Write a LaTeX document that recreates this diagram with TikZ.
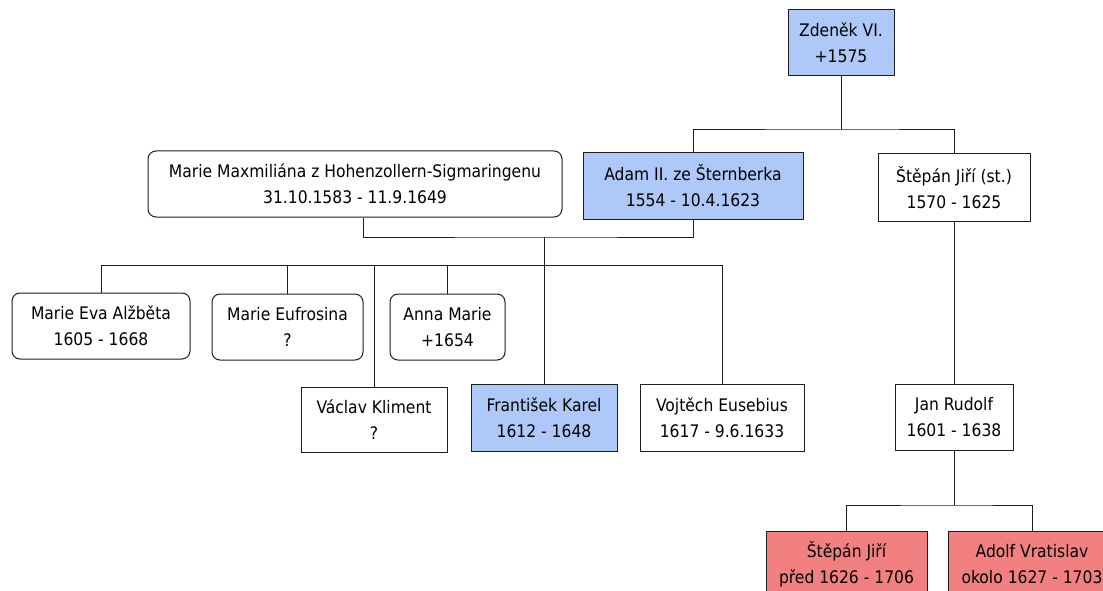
\documentclass[tikz,border=0pt]{standalone}
\usepackage{fontspec}
\setmainfont{DejaVu Sans Condensed}
\definecolor{famblue}{RGB}{174,201,247}
\definecolor{famred}{RGB}{242,128,128}
\definecolor{famline}{RGB}{30,30,30}
\tikzset{
    person/.style={draw=famline, line width=1pt, fill=white, inner sep=0pt, align=center,
        font=\fontsize{17.3}{26}\selectfont, minimum height=66},
    roundperson/.style={person, rounded corners=8pt},
    link/.style={draw=famline, line width=1pt}
}
\begin{document}
\begin{tikzpicture}[x=1pt,y=-1pt]

% page frame, same as reference image
\useasboundingbox (0,0) rectangle (1103,591);
\clip (0,0) rectangle (1103,591);
\fill[white] (0,0) rectangle (1103,591);

% generation 1
\node[person, fill=famblue, minimum width=106] (zden) at (841,43) {Zdeněk VI.\\+1575};

% generation 2
\node[roundperson, minimum width=414] (mmax) at (355,184) {Marie Maxmiliána z Hohenzollern-Sigmaringenu\\31.10.1583 - 11.9.1649};
\node[person, fill=famblue, minimum width=220] (adam) at (693,186) {Adam II. ze Šternberka\\1554 - 10.4.1623};
\node[person, minimum width=152, minimum height=67] (stepst) at (954,187.5) {Štěpán Jiří (st.)\\1570 - 1625};

% generation 3, upper row
\node[roundperson, minimum width=178] (eva) at (101,326) {Marie Eva Alžběta\\1605 - 1668};
\node[roundperson, minimum width=151] (eufr) at (287.5,327) {Marie Eufrosina\\?};
\node[roundperson, minimum width=115] (anna) at (447.5,327) {Anna Marie\\+1654};

% generation 3, lower row
\node[person, minimum width=146, minimum height=65] (vacl) at (374,419.5) {Václav Kliment\\?};
\node[person, fill=famblue, minimum width=146, minimum height=67] (fran) at (544,417.5) {František Karel\\1612 - 1648};
\node[person, minimum width=164, minimum height=67] (vojt) at (722,417.5) {Vojtěch Eusebius\\1617 - 9.6.1633};
\node[person, minimum width=118] (jan) at (954,417) {Jan Rudolf\\1601 - 1638};

% generation 4
\node[person, fill=famred, minimum width=161] (stepml) at (846.5,564) {Štěpán Jiří\\před 1626 - 1706};
\node[person, fill=famred, minimum width=168] (adolf) at (1032,564) {Adolf Vratislav\\okolo 1627 - 1703};

% bus points
\coordinate (zbus) at (841,130);
\coordinate (couple) at (544,237);
\coordinate (kids) at (544,265);
\coordinate (janbus) at (954,505);

% connectors
\draw[link] (zden.south) -- (zbus);
\draw[link] (adam.north) |- (zbus) -| (stepst.north);
\draw[link] ([xshift=8]mmax.south) |- (couple) -| (adam.south);
\draw[link] (couple) -- (kids);
\foreach \kid in {eva,eufr,vacl,anna,fran,vojt}
    \draw[link] (kids) -| (\kid.north);
\draw[link] (stepst.south) -- (jan.north);
\draw[link] (jan.south) -- (janbus);
\draw[link] (stepml.north) |- (janbus) -| (adolf.north);

\end{tikzpicture}
\end{document}
